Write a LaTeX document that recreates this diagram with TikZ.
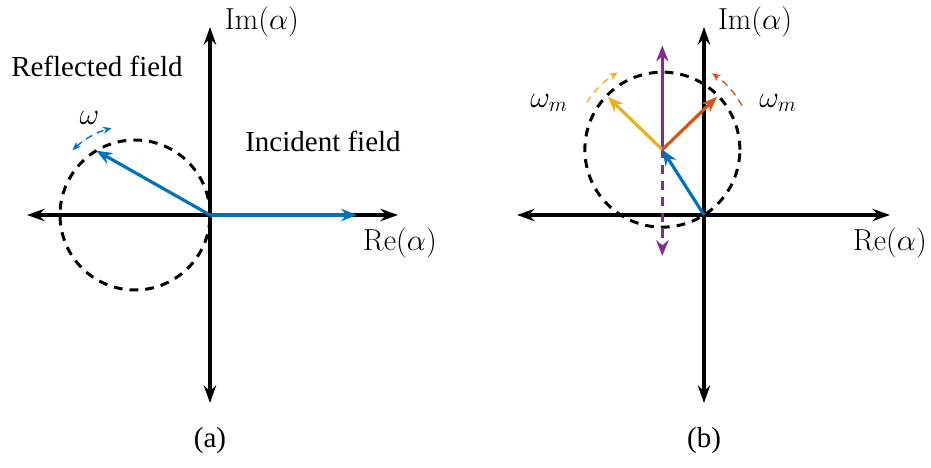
\documentclass[tikz,border=0pt]{standalone}
\usepackage[no-math]{fontspec}
\setmainfont{Liberation Serif}
\usetikzlibrary{arrows.meta,calc}
\definecolor{mblue}{rgb}{0,0.447,0.741}
\definecolor{morange}{rgb}{0.85,0.325,0.098}
\definecolor{myellow}{rgb}{0.929,0.694,0.125}
\definecolor{mpurple}{rgb}{0.494,0.184,0.556}
\tikzset{smalltip/.tip={Stealth[length=5pt,width=4pt]}}
\begin{document}
\begin{tikzpicture}[
		axis/.style={line width=2pt, black, {Stealth[length=10pt,width=7pt]}-{Stealth[length=10pt,width=7pt]}},
		phasor/.style={line width=1.8pt, -{Stealth[length=9pt,width=7pt]}},
		locus/.style={line width=1.7pt, black, dash pattern=on 5pt off 4pt},
		freq/.style={line width=0.8pt, dash pattern=on 4pt off 3pt},
		every node/.style={font=\fontsize{16.5}{20}\selectfont}
	]
		\useasboundingbox (-4.2,-5.06) rectangle (14.42,4.3);

		\coordinate (Oa) at (0,0);
		\coordinate (Ca) at (-1.5,0);
		\coordinate (Ob) at (9.88,0);
		\coordinate (Cb) at (9.047,1.307);

		\coordinate (La) at (-3.66,0);
		\coordinate (Ra) at (3.76,0);
		\coordinate (Ta) at (0,3.76);
		\coordinate (Ba) at (0,-3.76);
		\coordinate (Lb) at (6.14,0);
		\coordinate (Rb) at (13.6,0);
		\coordinate (Tb) at (9.88,3.76);
		\coordinate (Bb) at (9.88,-3.76);

		\draw [locus] (Ca) circle (1.5);
		\draw [locus] (Cb) circle (1.55);

		\draw [axis] (La) -- (Ra);
		\draw [axis] (Ta) -- (Ba);
		\draw [axis] (Lb) -- (Rb);
		\draw [axis] (Tb) -- (Bb);

		\coordinate (Refl) at ($(Ca)+(121:1.5)$);
		\coordinate (Inc) at (2.94,0);
		\draw [phasor, mblue] (Oa) -- (Inc);
		\draw [phasor, mblue] (Oa) -- (Refl);
		\draw [freq, mblue, smalltip-smalltip] ($(Ca)+(134:1.8)$) arc (134:105:1.8);

		\coordinate (Pt) at (9.047,3.39);
		\coordinate (Pb) at (9.047,-0.82);
		\coordinate (Yt) at ($(Cb)+(136:1.52)$);
		\coordinate (Rt) at ($(Cb)+(44:1.52)$);
		\draw [phasor, mpurple] (Cb) -- (Pt);
		\draw [phasor, mpurple, dash pattern=on 5pt off 4pt] (Cb) -- (Pb);
		\draw [phasor, myellow] (Cb) -- (Yt);
		\draw [phasor, morange] (Cb) -- (Rt);
		\draw [phasor, mblue] (Ob) -- (Cb);
		\draw [freq, myellow, -smalltip] ($(Cb)+(148:1.78)$) arc (148:120:1.78);
		\draw [freq, morange, -smalltip] ($(Cb)+(29:1.82)$) arc (29:57:1.82);

		\node (ima) at (1.04,3.86) {$\mathrm{Im}(\alpha)$};
		\node (rea) at (3.8,-0.56) {$\mathrm{Re}(\alpha)$};
		\node (imb) at (10.9,3.86) {$\mathrm{Im}(\alpha)$};
		\node (reb) at (13.6,-0.56) {$\mathrm{Re}(\alpha)$};
		\node (reflected) at (-2.26,2.98) {Reflected field};
		\node (incident) at (2.26,1.48) {Incident field};
		\node (omega) at (-2.41,1.95) {$\omega$};
		\node (omegaL) at (6.78,2.24) {$\omega_m$};
		\node (omegaR) at (11.36,2.24) {$\omega_m$};
		\node (capa) at (0,-4.52) {(a)};
		\node (capb) at (9.88,-4.52) {(b)};

	\end{tikzpicture}
\end{document}
